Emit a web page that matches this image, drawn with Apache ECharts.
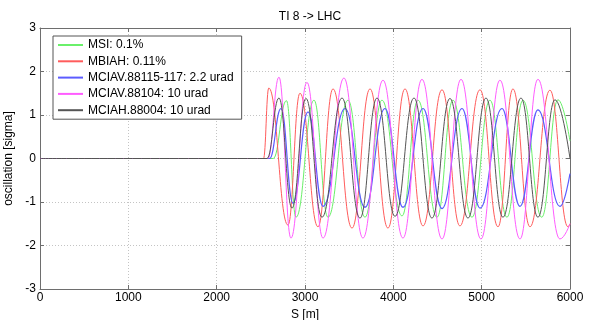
<!DOCTYPE html>
<html>
<head>
<meta charset="utf-8">
<script src="https://cdn.jsdelivr.net/npm/echarts@6/dist/echarts.min.js"></script>
<style>html,body{margin:0;padding:0;background:#fff}#c{width:591px;height:320px}</style>
</head>
<body>
<div id="c"></div>
<script>
var seriesNames = ['MSI: 0.1%', 'MBIAH: 0.11%', 'MCIAV.88115-117: 2.2 urad', 'MCIAV.88104: 10 urad', 'MCIAH.88004: 10 urad'];
var xTicks = [0, 1000, 2000, 3000, 4000, 5000, 6000];
var yTicks = [-3, -2, -1, 0, 1, 2, 3];

var msi = [[0,0],[2640,0],[2790,1.33],[2898,-1.35],[3102,1.34],[3260,-1.35],[3487,1.34],[3679,-1.35],[3871,1.34],[4098,-1.32],[4279,1.34],[4494,-1.35],[4675,1.34],[4890,-1.35],[5094,1.34],[5286,-1.35],[5468,1.34],[5680,-1.35],[5864,1.35],[6000,0.4]];
var mbiah = [[0,0],[2530,0],[2590,1.62],[2807,-1.53],[2943,1.5],[3147,-1.57],[3317,1.6],[3532,-1.6],[3736,1.6],[3939,-1.6],[4132,1.6],[4336,-1.55],[4551,1.58],[4754,-1.55],[4981,1.58],[5185,-1.57],[5354,1.6],[5547,-1.57],[5773,1.57],[5977,-1.57],[6000,-1.5]];
var mciav117 = [[0,0],[2600,0],[2728,1.15],[2864,-1.03],[3034,1.07],[3204,-1.1],[3453,1.15],[3679,-1.12],[3905,1.15],[4109,-1.12],[4336,1.15],[4551,-1.15],[4777,1.15],[4981,-1.14],[5230,1.15],[5434,-1.1],[5637,1.12],[5886,-1.1],[6000,-0.35]];
var mciav104 = [[0,0],[2580,0],[2705,1.87],[2841,-1.83],[3022,1.75],[3204,-1.83],[3441,1.85],[3656,-1.83],[3883,1.8],[4109,-1.83],[4324,1.82],[4551,-1.85],[4766,1.82],[4992,-1.85],[5207,1.8],[5434,-1.85],[5637,1.82],[5886,-1.85],[6000,-1.5]];
var mciah = [[0,0],[2570,0],[2705,1.39],[2853,-1.14],[3011,1.38],[3192,-1.35],[3419,1.39],[3622,-1.37],[3815,1.39],[4019,-1.33],[4234,1.39],[4437,-1.37],[4641,1.38],[4845,-1.37],[5049,1.39],[5241,-1.35],[5445,1.39],[5637,-1.35],[5830,1.35],[6000,0]];

var seriesData = [msi, mbiah, mciav117, mciav104, mciah];
var colors = ['#6af06a', '#ff5c5c', '#5c5cff', '#ff5cff', '#555555'];
var widths = [1, 1, 1.2, 1, 1];

var chart = echarts.init(document.getElementById('c'), null, {renderer: 'canvas'});
var font = 'Liberation Sans, Arial, sans-serif';
var axisLine = {show: true, onZero: false, lineStyle: {color: '#6e6e6e', width: 1}};
var splitLine = {show: true, lineStyle: {color: '#c4c4c4', type: [1, 2], width: 1}};
var tick = {show: true, inside: true, length: 4, lineStyle: {color: '#6e6e6e'}};

chart.setOption({
  animation: false,
  backgroundColor: '#fff',
  title: {
    text: 'TI 8 -> LHC', left: 305, top: 6, textAlign: 'center',
    textStyle: {fontFamily: font, fontSize: 12, fontWeight: 'normal', color: '#000'}
  },
  legend: {
    orient: 'vertical', left: 53, top: 36,
    data: seriesNames,
    itemWidth: 25, itemHeight: 14, itemGap: 2.3,
    padding: [2, 8, 2, 4],
    itemStyle: {opacity: 0},
    borderColor: '#555', borderWidth: 1, backgroundColor: '#fff',
    textStyle: {fontFamily: font, fontSize: 12, color: '#000', lineHeight: 14},
    selectedMode: false
  },
  grid: {left: 40, right: 21, top: 28, bottom: 31, containLabel: false, outerBoundsMode: 'none'},
  xAxis: [{
    type: 'value', min: 0, max: 6000, interval: 1000, position: 'bottom',
    name: 'S [m]', nameLocation: 'middle', nameGap: 17,
    nameTextStyle: {fontFamily: font, fontSize: 12, color: '#000'},
    axisLine: axisLine, axisTick: tick, splitLine: splitLine,
    axisLabel: {fontFamily: font, fontSize: 12, color: '#000', margin: 3,
      formatter: function (v) { return xTicks.indexOf(v) >= 0 ? String(v) : ''; }}
  }, {
    type: 'value', min: 0, max: 6000, interval: 1000, position: 'top',
    axisLine: axisLine, axisTick: tick, splitLine: {show: false}, axisLabel: {show: false}
  }],
  yAxis: [{
    type: 'value', min: -3, max: 3, interval: 1, position: 'left',
    name: 'oscillation [sigma]', nameLocation: 'middle', nameGap: 20, nameRotate: 90,
    nameTextStyle: {fontFamily: font, fontSize: 12, color: '#000'},
    axisLine: axisLine, axisTick: tick, splitLine: splitLine,
    axisLabel: {fontFamily: font, fontSize: 12, color: '#000', margin: 4,
      formatter: function (v) { return yTicks.indexOf(v) >= 0 ? String(v) : ''; }}
  }, {
    type: 'value', min: -3, max: 3, interval: 1, position: 'right',
    axisLine: axisLine, axisTick: tick, splitLine: {show: false}, axisLabel: {show: false}
  }],
  series: seriesNames.map(function (n, i) {
    return {
      name: n, type: 'line', data: seriesData[i], symbol: 'none',
      smooth: 0.45, smoothMonotone: 'x',
      lineStyle: {color: colors[i], width: widths[i]},
      itemStyle: {color: colors[i]},
      xAxisIndex: 0, yAxisIndex: 0
    };
  })
});
</script>
</body>
</html>
